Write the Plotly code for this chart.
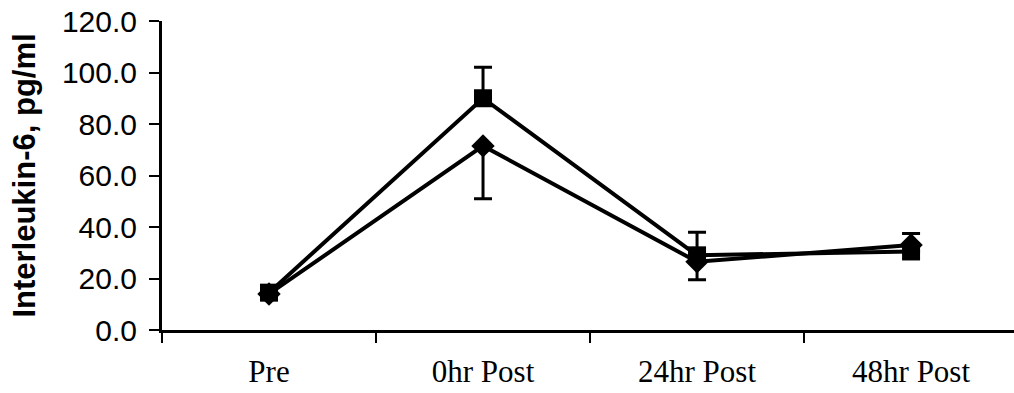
import plotly.graph_objects as go

categories = ["Pre", "0hr Post", "24hr Post", "48hr Post"]
x_pos = [0, 1, 2, 3]

square_vals = [14.5, 90.0, 29.0, 30.5]
square_err_up = [0.0, 12.0, 9.0, 7.0]

diamond_vals = [14.0, 71.5, 26.5, 33.0]
diamond_err_down = [0.0, 20.5, 7.0, 0.0]

y_ticks = [0, 20, 40, 60, 80, 100, 120]
y_ticktext = [f"{v:.1f}" for v in y_ticks]

fig = go.Figure()

fig.add_trace(go.Scatter(
    x=x_pos, y=diamond_vals, mode="lines+markers",
    line=dict(color="black", width=4),
    marker=dict(symbol="diamond", size=18, color="black"),
    error_y=dict(type="data", symmetric=False, array=[0, 0, 0, 0],
                 arrayminus=diamond_err_down, color="black", thickness=3, width=9),
    showlegend=False,
))

fig.add_trace(go.Scatter(
    x=x_pos, y=square_vals, mode="lines+markers",
    line=dict(color="black", width=4),
    marker=dict(symbol="square", size=18, color="black"),
    error_y=dict(type="data", symmetric=False, array=square_err_up,
                 arrayminus=[0, 0, 0, 0], color="black", thickness=3, width=9),
    showlegend=False,
))

fig.update_layout(
    width=1014, height=393,
    margin=dict(l=162, r=0, t=21, b=63),
    paper_bgcolor="white", plot_bgcolor="white",
    xaxis=dict(
        range=[-0.5, 3.481], tickmode="array", tickvals=x_pos, ticktext=categories,
        ticks="", showgrid=False, zeroline=False, automargin=False,
        showline=True, linecolor="black", linewidth=3,
        tickfont=dict(family="Liberation Serif", size=31, color="black"),
        ticklabelstandoff=12,
        minor=dict(tick0=-0.5, dtick=1, ticks="outside", ticklen=10, tickwidth=2,
                   tickcolor="black", showgrid=False),
    ),
    yaxis=dict(
        range=[0, 120], tickmode="array", tickvals=y_ticks, ticktext=y_ticktext,
        ticks="outside", ticklen=10, tickwidth=2, tickcolor="black",
        showgrid=False, zeroline=False, automargin=False,
        showline=True, linecolor="black", linewidth=3,
        tickfont=dict(family="Liberation Sans", size=30, color="black"),
        ticklabelstandoff=6,
        title=dict(text="<b>Interleukin-6, pg/ml</b>",
                   font=dict(family="Liberation Sans", size=31, color="black"),
                   standoff=18),
    ),
)

fig.write_html("out.html")
